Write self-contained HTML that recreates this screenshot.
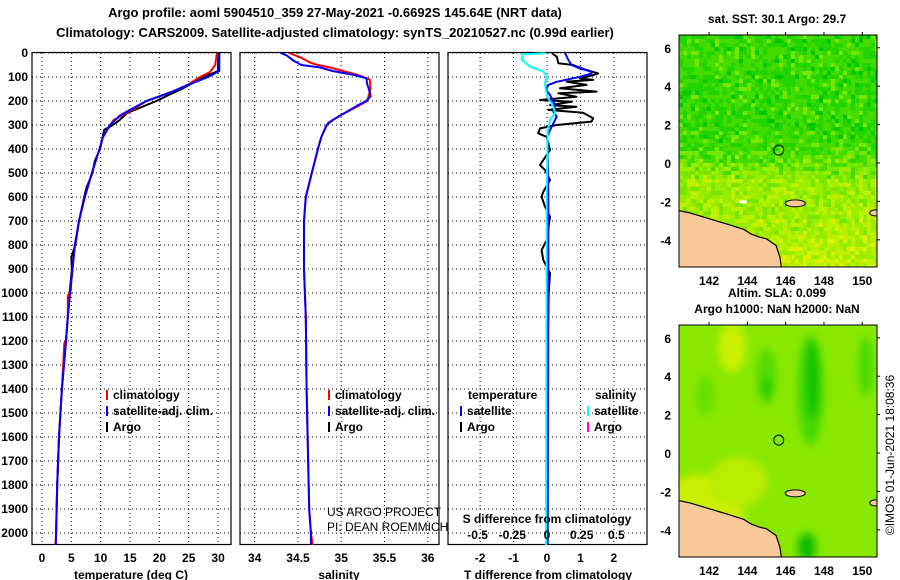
<!DOCTYPE html>
<html><head><meta charset="utf-8">
<style>
body{margin:0;background:#fff;}
svg{display:block;font-family:"Liberation Sans",Arial,sans-serif;}
.b{font-weight:bold;font-size:12px;}
.n{font-weight:normal;font-size:12px;}
.t{font-weight:bold;font-size:13px;}
</style></head>
<body>
<svg id="fig" width="900" height="580" viewBox="0 0 900 580">
<text class="t" x="335" y="17" text-anchor="middle">Argo profile: aoml 5904510_359 27-May-2021 -0.6692S 145.64E (NRT data)</text>
<text class="t" x="335" y="37" text-anchor="middle">Climatology: CARS2009. Satellite-adjusted climatology: synTS_20210527.nc (0.99d earlier)</text>
<g id="panels"></g>
<g id="maps"></g>
</svg>
<script>
// ---- data ----
const depthTicks=[0,100,200,300,400,500,600,700,800,900,1000,1100,1200,1300,1400,1500,1600,1700,1800,1900,2000];
const tempTicks=[0,5,10,15,20,25,30];
const salTicks=[34,34.5,35,35.5,36];
const salTickLabels=["34","34.5","35","35.5","36"];
const diffTicks=[-2,-1,0,1,2];
const sDiffTicks=[-0.5,-0.25,0,0.25,0.5];
const sDiffLabels=["-0.5","-0.25","0","0.25","0.5"];

const tClimDepth=[0,50,80,100,130,160,200,230,260,280,300,350,400,500,600,700,800,900,1000,1010,1100,1200,1210,1400,1600,1800,2000,2050];
const tClimVal=[29.8,29.5,28.6,26.9,25.0,22.3,17.8,15.8,13.6,12.2,11.6,10.4,9.8,8.5,7.3,6.3,5.6,5.2,4.8,4.4,4.4,4.1,3.8,3.4,2.9,2.6,2.4,2.3];
const tSatDepth=[0,75,100,130,160,200,230,260,300,350,400,500,600,700,800,900,1000,1100,1200,1400,1600,1800,2000,2050];
const tSatVal=[30.2,30.2,28.3,25.2,22.3,17.8,15.5,13.3,11.6,10.4,9.8,8.5,7.3,6.3,5.6,5.2,4.8,4.4,4.1,3.4,2.9,2.6,2.4,2.35];
const tArgoDepth=[0,75,100,150,170,200,250,280,300,320,400,450,500,560,600,700,800,850,900,1000,1100,1200,1400,1600,1800,2000];
const tArgoVal=[30.0,30.0,27.6,23.8,22.0,19.5,14.5,13.2,12.1,10.6,9.9,9.0,8.6,7.6,7.2,6.3,5.7,5.0,5.1,4.7,4.4,4.1,3.4,2.9,2.6,2.4];

const sClimDepth=[0,20,40,50,60,75,90,110,150,200,230,260,290,350,400,500,600,700,900,1100,1400,1900,2000,2050];
const sClimVal=[34.40,34.54,34.64,34.73,34.87,35.02,35.18,35.33,35.34,35.30,35.15,34.99,34.85,34.77,34.73,34.66,34.59,34.57,34.57,34.59,34.60,34.63,34.65,34.67];
const sSatDepth=[0,10,30,50,60,75,90,105,130,150,180,200,220,250,280,300,350,400,500,600,700,900,1100,1400,1900,2000,2050];
const sSatVal=[34.30,34.37,34.44,34.54,34.75,34.90,35.13,35.29,35.30,35.32,35.34,35.29,35.18,35.04,34.90,34.83,34.77,34.73,34.66,34.59,34.57,34.57,34.59,34.60,34.63,34.65,34.65];

const dArgoDepth=[1,15,43,50,71,85,92,106,112,119,133,147,161,168,182,196,203,217,224,237,249,272,286,300,314,335,349,404,446,467,488,529,578,599,640,682,779,821,863,918,1000,1200,1500,2000];
const dArgoVal=[0.14,0.29,0.34,0.78,1.18,1.53,1.38,0.98,1.38,0.59,1.18,0.39,1.48,0.34,0.88,-0.21,0.74,0.09,0.88,0.04,1.08,1.38,1.33,0.29,-0.21,-0.26,-0.01,0.09,-0.11,-0.21,-0.06,0.09,-0.11,-0.16,-0.06,0.09,-0.01,-0.16,-0.11,0.09,0.05,0.02,0.0,0.0];
const dSatDepth=[1,29,50,64,78,85,99,120,133,154,175,203,224,245,265,293,321,349,600,1000,2050];
const dSatVal=[0.54,0.64,0.74,0.98,1.33,1.33,0.98,0.29,0.04,-0.03,0.09,0.19,0.24,0.19,0.29,0.19,0.09,0.01,0.04,0.04,0.02];
const dSSatDepth=[1,5,29,57,78,99,126,161,189,224,251,279,321,600,2050];
const dSSatVal=[-0.06,-0.75,-0.75,-0.5,-0.1,-0.01,-0.06,-0.03,0.04,0.19,0.24,0.09,0.02,-0.01,-0.03];

const mapLonTicks=[142,144,146,148,150];
const mapLatTicks=[6,4,2,0,-2,-4];
const floatLon=145.64, floatLat=-0.6692;

// ---- helpers ----
const NS="http://www.w3.org/2000/svg";
function mk(tag,attrs,parent){const e=document.createElementNS(NS,tag);for(const k in attrs)e.setAttribute(k,attrs[k]);parent.appendChild(e);return e;}
const panels=document.getElementById('panels');
const TOP=53,BOT=545;
const yD=d=>TOP+d*0.24;
function panel(x0,x1,xmin,xmax,name){
  const g=mk('g',{},panels);
  
  
  return {g,x:v=>x0+(v-xmin)/(xmax-xmin)*(x1-x0),x0,x1};
}
function frame(p,ticks,labels,showY){
  const g=p.g;
  ticks.forEach(t=>{const x=p.x(t);
    const l=mk('line',{x1:x,x2:x,y1:TOP,y2:BOT,stroke:'#000','stroke-width':1,'stroke-dasharray':'1,3'},g);
    
    });
  depthTicks.forEach(d=>{const y=yD(d);
    const l=mk('line',{x1:p.x0,x2:p.x1,y1:y,y2:y,stroke:'#000','stroke-width':1,'stroke-dasharray':'1,3'},g);
    
    
    if(showY){const t=mk('text',{x:28,y:y+4,'text-anchor':'end',class:'b'},g);t.textContent=d;
      
      }});
  ticks.forEach((t,i)=>{const tx=mk('text',{x:p.x(t),y:562,'text-anchor':'middle',class:'b'},g);tx.textContent=labels[i];
    
    });
  const r=mk('rect',{x:p.x0,y:TOP-0.5,width:p.x1-p.x0,height:BOT-TOP,fill:'none',stroke:'#000','stroke-width':1.2},g);
  
  
}
function line(p,depths,vals,color,name,w){
  const pts=depths.map((d,i)=>p.x(vals[i]).toFixed(1)+','+yD(d).toFixed(1)).join(' ');
  const l=mk('polyline',{points:pts,fill:'none',stroke:color,'stroke-width':w||2,'stroke-linejoin':'round'},p.g);
  
  
}
function txt(parent,x,y,s,cls,name,extra){
  const t=mk('text',Object.assign({x,y,class:cls},extra||{}),parent);t.textContent=s;
  
  
  return t;
}
function legendEntry(g,x,y,color,label){
  const m=mk('line',{x1:x,x2:x,y1:y-9,y2:y+1,stroke:color,'stroke-width':2},g);
  
  
  txt(g,x+6,y,label,'b','legend-entry');
}

// temperature panel
const p1=panel(32,231,-1.7,32.2,'temperature-panel');
frame(p1,tempTicks,tempTicks.map(String),true);
line(p1,tArgoDepth,tArgoVal,'#000','argo-temperature-line');
line(p1,tClimDepth,tClimVal,'#f00','climatology-temperature-line');
line(p1,tSatDepth,tSatVal,'#00f','satellite-temperature-line');
txt(p1.g,131,579,'temperature (deg C)','b','x-axis-title',{'text-anchor':'middle'});
legendEntry(p1.g,107,399,'#f00','climatology');
legendEntry(p1.g,107,415,'#00f','satellite-adj. clim.');
legendEntry(p1.g,107,431,'#000','Argo');

// salinity panel
const p2=panel(240,439,33.83,36.13,'salinity-panel');
frame(p2,salTicks,salTickLabels,false);
line(p2,sClimDepth,sClimVal,'#f00','climatology-salinity-line');
line(p2,sSatDepth,sSatVal,'#00f','satellite-salinity-line');
txt(p2.g,339,579,'salinity','b','x-axis-title',{'text-anchor':'middle'});
legendEntry(p2.g,329,399,'#f00','climatology');
legendEntry(p2.g,329,415,'#00f','satellite-adj. clim.');
legendEntry(p2.g,329,431,'#000','Argo');
txt(p2.g,327,516,'US ARGO PROJECT','n','credit-project');
txt(p2.g,327,531,'PI: DEAN ROEMMICH','n','credit-pi');

// difference panel
const p3=panel(448,647,-2.96,2.99,'difference-panel');
frame(p3,diffTicks,diffTicks.map(String),false);
line(p3,dArgoDepth,dArgoVal,'#000','argo-t-difference-line');
line(p3,dSatDepth,dSatVal,'#00f','satellite-t-difference-line');
line(p3,dSSatDepth,dSSatVal,'#0ff','satellite-s-difference-line');
txt(p3.g,548,579,'T difference from climatology','b','x-axis-title',{'text-anchor':'middle'});
txt(p3.g,547,523,'S difference from climatology','b','s-axis-title',{'text-anchor':'middle'});
sDiffTicks.forEach((s,i)=>{txt(p3.g,p3.x(s*4.15),539,sDiffLabels[i],'b','s-tick-label',{'text-anchor':'middle'});});
txt(p3.g,468,399,'temperature','b','legend-group-title');
txt(p3.g,595,399,'salinity','b','legend-group-title');
legendEntry(p3.g,461,415,'#00f','satellite');
legendEntry(p3.g,461,431,'#000','Argo');
legendEntry(p3.g,588,415,'#0ff','satellite');
legendEntry(p3.g,588,431,'#f0f','Argo');

// ---- maps ----
const maps=document.getElementById('maps');
const MX0=679,MX1=877,LON0=140.43,LON1=150.77;
const mx=lon=>MX0+(lon-LON0)/(LON1-LON0)*(MX1-MX0);
function hash(i,j){let h=(i*374761393+j*668265263)^0x5bd1e995;h=(h^(h>>>13))*1274126177;return ((h^(h>>>16))>>>0)/4294967296;}
const sstPal=['#00c800','#22d400','#44dc00','#77e600','#99ee00','#bbf000','#ddf000','#ffcc00'];
function buildMap(top,name,kind){
  const g=mk('g',{},maps);
  
  
  const my=lat=>top+128-lat*19.2;
  const clip='clip'+kind;
  const cp=mk('clipPath',{id:clip},g);mk('rect',{x:MX0,y:top,width:MX1-MX0,height:232},cp);
  const body=mk('g',{'clip-path':'url(#'+clip+')'},g);
  if(kind==='sst'){
    for(let i=0;i<50;i++)for(let j=0;j<58;j++){
      const lat=6.67-j*0.2;
      let v=lat>1.5?0.22:(lat>-0.5?0.22+(1.5-lat)*0.15:0.55+(-0.5-lat)*0.04);
      v+= (hash(i,j)-0.5)*0.35;
      const k=Math.max(0,Math.min(7,Math.round(v*7)));
      mk('rect',{x:MX0+i*4,y:top+j*4,width:4.2,height:4.2,fill:sstPal[k]},body);
    }
  } else {
    mk('rect',{x:MX0,y:top,width:MX1-MX0,height:232,fill:'#88e800'},body);
    const f=mk('filter',{id:'bl',x:'-50%',y:'-50%',width:'200%',height:'200%'},g);mk('feGaussianBlur',{stdDeviation:4},f);
    const bg=mk('g',{filter:'url(#bl)'},body);
    mk('ellipse',{cx:mx(141.5),cy:my(-3.2),rx:45,ry:40,fill:'#ccee00'},bg);
    mk('ellipse',{cx:mx(143.5),cy:my(-1.5),rx:30,ry:25,fill:'#b8ec00'},bg);
    mk('ellipse',{cx:mx(143.2),cy:my(5.5),rx:14,ry:25,fill:'#c8f000'},bg);
    mk('ellipse',{cx:mx(147.3),cy:my(3.3),rx:13,ry:55,fill:'#44d800'},bg);
    mk('ellipse',{cx:mx(147.4),cy:my(3.8),rx:7,ry:40,fill:'#11c400'},bg);
    mk('ellipse',{cx:mx(145),cy:my(4),rx:10,ry:28,fill:'#55dc00'},bg);
    mk('ellipse',{cx:mx(145),cy:my(3.4),rx:5,ry:12,fill:'#22cc00'},bg);
    mk('ellipse',{cx:mx(141.8),cy:my(3),rx:9,ry:20,fill:'#66e000'},bg);
    mk('ellipse',{cx:mx(150.2),cy:my(4.5),rx:7,ry:30,fill:'#44d800'},bg);
    mk('ellipse',{cx:mx(147.1),cy:my(-4.9),rx:9,ry:14,fill:'#11bb00'},bg);
  }
  const landPts=[[140.3,-2.45],[141,-2.6],[142,-2.9],[143,-3.2],[143.8,-3.45],[144.2,-3.7],[144.6,-3.85],[145,-3.95],[145.5,-4.3],[145.7,-4.9],[145.8,-5.6],[140.3,-5.6]];
  const land=mk('polygon',{points:landPts.map(p=>mx(p[0])+','+my(p[1])).join(' '),fill:'#f8c898',stroke:'#000','stroke-width':1.2},body);
  
  
  const isl=mk('ellipse',{cx:mx(146.5),cy:my(-2.1),rx:10,ry:3.5,fill:'#f8c898',stroke:'#000','stroke-width':1},body);
  
  
  mk('ellipse',{cx:mx(150.7),cy:my(-2.6),rx:6,ry:3,fill:'#f8c898',stroke:'#000','stroke-width':1},body);
  if(kind==='sst'){mk('rect',{x:mx(143.6),y:my(-1.95),width:7,height:3,fill:'#fff'},body);}
  const c=mk('circle',{cx:mx(floatLon),cy:my(-floatLat),r:5,fill:'none',stroke:'#000','stroke-width':1},g);
  
  
  const fr=mk('rect',{x:MX0,y:top,width:MX1-MX0,height:232,fill:'none',stroke:'#000','stroke-width':1},g);
  
  
  mapLatTicks.forEach(l=>{txt(g,671,my(l)+5,String(l),'b','lat-tick-label',{'text-anchor':'end','font-size':'13px'});
    mk('line',{x1:MX1,x2:MX1+3,y1:my(l),y2:my(l),stroke:'#000'},g);});
  mapLonTicks.forEach(l=>{txt(g,mx(l),top+250,String(l),'b','lon-tick-label',{'text-anchor':'middle','font-size':'13px'});
    mk('line',{x1:mx(l),x2:mx(l),y1:top,y2:top-3,stroke:'#000'},g);});
  return g;
}
const m1=buildMap(35,'sst-map','sst');
const m2=buildMap(325,'sla-map','sla');
txt(maps,777,23,'sat. SST: 30.1 Argo: 29.7','b','sst-map-title',{'text-anchor':'middle'});
txt(maps,777,297,'Altim. SLA: 0.099','b','sla-map-title',{'text-anchor':'middle'});
txt(maps,777,313,'Argo h1000: NaN h2000: NaN','b','sla-map-subtitle',{'text-anchor':'middle'});
txt(maps,894,455,'©IMOS 01-Jun-2021 18:08:36','n','timestamp',{'text-anchor':'middle',transform:'rotate(-90 894 455)'});
</script>
</body></html>
